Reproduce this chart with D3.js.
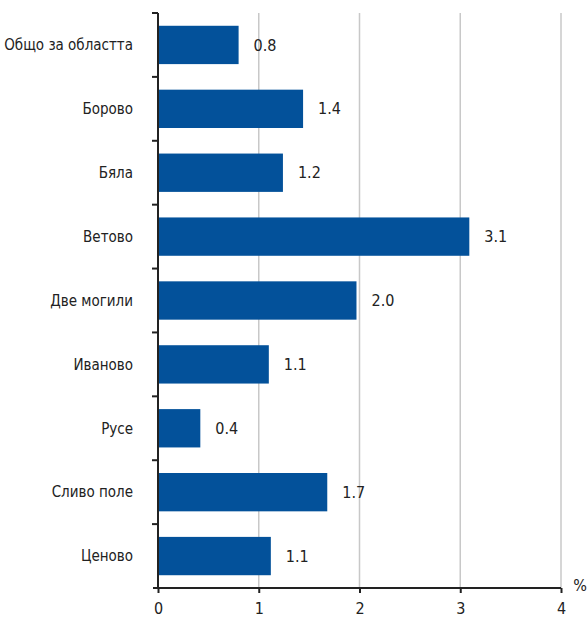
<!DOCTYPE html>
<html><head><meta charset="utf-8">
<script src="https://cdn.jsdelivr.net/npm/d3@7"></script>
<style>
body{margin:0;background:#fff;}
text{font-family:"DejaVu Sans Condensed","DejaVu Sans",sans-serif;font-stretch:condensed;fill:#222;}
</style></head><body>
<svg id="c" width="588" height="620"></svg>
<script>
const categories = ["Общо за областта","Борово","Бяла","Ветово","Две могили","Иваново","Русе","Сливо поле","Ценово"];
const values = [0.80, 1.44, 1.24, 3.09, 1.97, 1.10, 0.42, 1.68, 1.12];
const valueLabels = ["0.8","1.4","1.2","3.1","2.0","1.1","0.4","1.7","1.1"];
const xTicks = [0,1,2,3,4];
const unitLabel = "%";

(function(){
const svg = d3.select("#c");
const mL = 158, mR = 561, mT = 13, mB = 588;
const x = d3.scaleLinear().domain([0,4]).range([mL,mR]);
const y = d3.scaleBand().domain(categories).range([mT,mB]).paddingInner(0.4).paddingOuter(0.2);

svg.append("g").selectAll("line").data(xTicks.filter(d=>d>0)).join("line")
  .attr("x1",d=>x(d)).attr("x2",d=>x(d)).attr("y1",mT).attr("y2",mB)
  .attr("stroke","#c8c8c8").attr("stroke-width",1.5);

svg.append("g").selectAll("rect").data(values).join("rect")
  .attr("x",x(0)).attr("y",(d,i)=>y(categories[i]))
  .attr("width",d=>x(d)-x(0)).attr("height",y.bandwidth())
  .attr("fill","#03519a");

svg.append("g").selectAll("text").data(values).join("text")
  .attr("x",d=>x(d)+15).attr("y",(d,i)=>y(categories[i])+y.bandwidth()/2)
  .attr("dy","0.35em").attr("font-size",16).text((d,i)=>valueLabels[i]);

const xAxis = d3.axisBottom(x).tickValues(xTicks).tickSize(5).tickPadding(10).tickFormat(d3.format("d"));
const gx = svg.append("g").attr("transform",`translate(0,${mB})`).call(xAxis);
gx.select(".domain").attr("stroke","#222").attr("stroke-width",2).attr("d",`M${mL-5},0H${mR}`);
gx.selectAll(".tick line").attr("stroke","#222").attr("stroke-width",2);
gx.selectAll(".tick text").attr("font-size",16).attr("font-family",null).attr("fill","#222");

const gy = svg.append("g");
gy.append("line").attr("x1",mL).attr("x2",mL).attr("y1",mT).attr("y2",mB+1).attr("stroke","#222").attr("stroke-width",2);
const step = (mB-mT)/categories.length;
gy.selectAll("line.t").data(d3.range(categories.length)).join("line").attr("class","t")
  .attr("x1",mL-6).attr("x2",mL).attr("y1",i=>mT+i*step).attr("y2",i=>mT+i*step)
  .attr("stroke","#222").attr("stroke-width",2);
gy.selectAll("text").data(categories).join("text")
  .attr("x",133).attr("y",d=>y(d)+y.bandwidth()/2).attr("dy","0.35em")
  .attr("text-anchor","end").attr("font-size",15).text(d=>d);

svg.append("text").attr("x",580).attr("y",591).attr("text-anchor","middle").attr("font-size",16).text(unitLabel);
})();
</script>
</body></html>
